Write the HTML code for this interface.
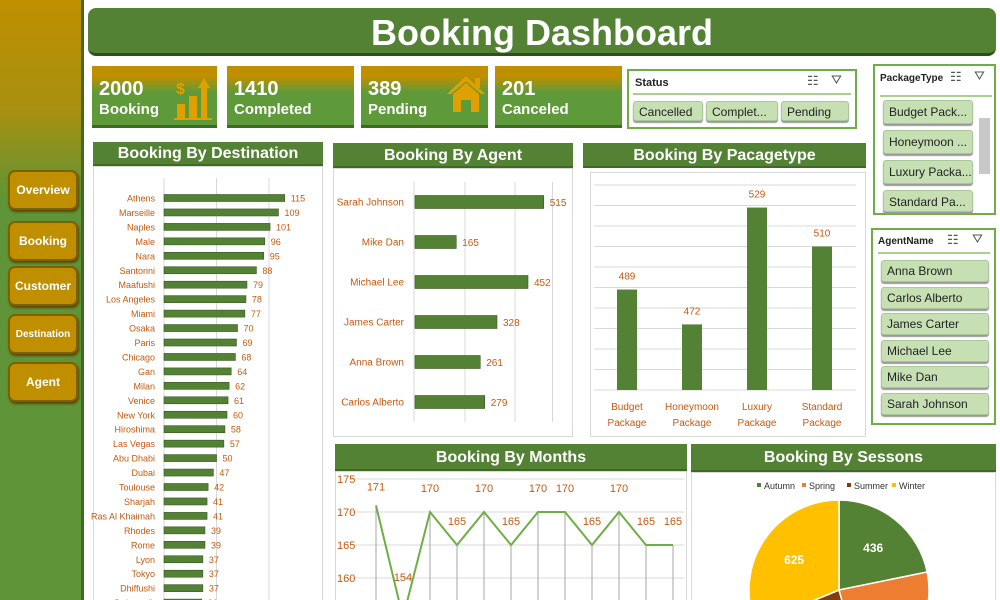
<!DOCTYPE html>
<html><head><meta charset="utf-8">
<style>
*{box-sizing:border-box;margin:0;padding:0}
html,body{width:1000px;height:600px;overflow:hidden}
body{background:#fff;font-family:"Liberation Sans",sans-serif;position:relative}
.abs{position:absolute}
.side{left:0;top:0;width:84px;height:600px;background:linear-gradient(#bf8f00 0px,#a89010 110px,#5f9438 200px,#5f9438 600px);border-right:3px solid #3d6b22}
.nav{left:8px;width:70px;height:40px;background:#bf8f00;border:2px solid #7f6000;border-radius:7px;color:#fff;font-weight:bold;font-size:12px;display:flex;align-items:center;justify-content:center;box-shadow:1px 2px 2px #5a4500}
.title{left:88px;top:8px;width:908px;height:48px;background:#548235;border-radius:8px;border-bottom:3px solid #2f4f1b;color:#fff;font-weight:bold;font-size:36px;text-align:center;line-height:50px}
.kpi{top:66px;height:62px;background:linear-gradient(#bf8f00 0%,#bf8f00 18%,#5e9a3a 45%,#5e9a3a 100%);border-bottom:3px solid #3d6b22;color:#fff;font-weight:bold;padding:12px 0 0 7px}
.kpi .n{font-size:20px;line-height:22px}.kpi .l{font-size:15px;line-height:19px}
.hdr{background:#548235;color:#fff;font-weight:bold;font-size:16px;text-align:center;border-bottom:2px solid #3d6b22}
.panel{border:1px solid #d9d9d9;border-bottom:none;background:#fff}
.slicer{border:2px solid #70ad47;background:#fff}
.item{position:absolute;background:#c6e0b4;border:1px solid #a9c79a;border-radius:3px;font-size:12px;color:#222;padding-left:5px;box-shadow:0 2px 1px #999;line-height:20px;white-space:nowrap;overflow:hidden}
.sl-t{position:absolute;font-weight:bold;font-size:11px;color:#222}
.ico{position:absolute;font-size:13px;color:#555}
</style></head><body>
<div class="abs side"></div>
<div class="abs nav" style="top:170px">Overview</div>
<div class="abs nav" style="top:221px">Booking</div>
<div class="abs nav" style="top:266px">Customer</div>
<div class="abs nav" style="top:314px;font-size:10px">Destination</div>
<div class="abs nav" style="top:362px">Agent</div>
<div class="abs title">Booking Dashboard</div>

<div class="abs kpi" style="left:92px;width:125px"><div class="n">2000</div><div class="l">Booking</div>
<svg class="abs" style="left:82px;top:10px" width="40" height="45"><text x="2" y="18" fill="#e0a000" font-size="16" font-weight="bold">$</text><rect x="3" y="28" width="8" height="14" fill="#e0a000"/><rect x="15" y="20" width="8" height="22" fill="#e0a000"/><rect x="27" y="12" width="6" height="30" fill="#e0a000"/><polygon points="24,12 30,2 36,12" fill="#e0a000"/><rect x="0" y="42" width="38" height="2" fill="#e0a000"/></svg></div>
<div class="abs kpi" style="left:227px;width:127px"><div class="n">1410</div><div class="l">Completed</div></div>
<div class="abs kpi" style="left:361px;width:127px"><div class="n">389</div><div class="l">Pending</div>
<svg class="abs" style="left:84px;top:6px" width="42" height="42"><polygon points="2,22 21,4 40,22 36,22 21,9 6,22" fill="#e0a000"/><rect x="30" y="6" width="5" height="10" fill="#e0a000"/><polygon points="8,22 21,11 34,22 34,40 26,40 26,28 16,28 16,40 8,40" fill="#e0a000"/></svg></div>
<div class="abs kpi" style="left:495px;width:127px"><div class="n">201</div><div class="l">Canceled</div></div>

<div class="abs slicer" style="left:627px;top:69px;width:230px;height:60px">
<div class="sl-t" style="left:6px;top:6px">Status</div><div class="ico" style="left:178px;top:2px">☷</div><div class="ico" style="left:202px;top:1px">⛛</div>
<div class="abs" style="left:4px;top:22px;width:218px;height:2px;background:#a9d08e"></div>
<div class="item" style="left:4px;top:30px;width:70px;height:20px">Cancelled</div>
<div class="item" style="left:77px;top:30px;width:72px;height:20px">Complet...</div>
<div class="item" style="left:152px;top:30px;width:68px;height:20px">Pending</div></div>

<div class="abs slicer" style="left:873px;top:64px;width:123px;height:151px">
<div class="sl-t" style="left:5px;top:7px;font-size:10px">PackageType</div><div class="ico" style="left:75px;top:3px">☷</div><div class="ico" style="left:99px;top:2px">⛛</div>
<div class="abs" style="left:5px;top:29px;width:112px;height:2px;background:#a9d08e"></div>
<div class="item" style="left:8px;top:34px;width:90px;height:24px;line-height:22px">Budget Pack...</div>
<div class="item" style="left:8px;top:64px;width:90px;height:24px;line-height:22px">Honeymoon ...</div>
<div class="item" style="left:8px;top:94px;width:90px;height:24px;line-height:22px">Luxury Packa...</div>
<div class="item" style="left:8px;top:124px;width:90px;height:22px;line-height:22px">Standard Pa...</div>
<div class="abs" style="left:104px;top:52px;width:11px;height:56px;background:#c8c8c8"></div></div>

<div class="abs slicer" style="left:871px;top:228px;width:125px;height:197px">
<div class="sl-t" style="left:5px;top:6px;font-size:10px">AgentName</div><div class="ico" style="left:74px;top:2px">☷</div><div class="ico" style="left:99px;top:1px">⛛</div>
<div class="abs" style="left:5px;top:22px;width:112px;height:2px;background:#a9d08e"></div>
<div id="agentItems"></div></div>

<div class="abs hdr" style="left:93px;top:142px;width:230px;height:24px;line-height:24px">Booking By Destination</div>
<div class="abs panel" style="left:93px;top:166px;width:230px;height:434px"></div>
<div class="abs hdr" style="left:333px;top:143px;width:240px;height:25px;line-height:25px">Booking By Agent</div>
<div class="abs panel" style="left:333px;top:168px;width:240px;height:269px;border-bottom:1px solid #d9d9d9"></div>
<div class="abs hdr" style="left:583px;top:143px;width:283px;height:25px;line-height:25px">Booking By Pacagetype</div>
<div class="abs panel" style="left:590px;top:172px;width:276px;height:265px;border-bottom:1px solid #d9d9d9"></div>
<div class="abs hdr" style="left:335px;top:444px;width:352px;height:27px;line-height:27px">Booking By Months</div>
<div class="abs panel" style="left:335px;top:471px;width:352px;height:129px"></div>
<div class="abs hdr" style="left:691px;top:444px;width:305px;height:28px;line-height:28px">Booking By Sessons</div>
<div class="abs panel" style="left:691px;top:472px;width:305px;height:128px"></div>

<svg id="chart" class="abs" style="left:0;top:0" width="1000" height="600"></svg>
<script>
const destNames=["Athens","Marseille","Naples","Male","Nara","Santorini","Maafushi","Los Angeles","Miami","Osaka","Paris","Chicago","Gan","Milan","Venice","New York","Hiroshima","Las Vegas","Abu Dhabi","Dubai","Toulouse","Sharjah","Ras Al Khaimah","Rhodes","Rome","Lyon","Tokyo","Dhiffushi","Dubrovnik"];
const destValues=[115,109,101,96,95,88,79,78,77,70,69,68,64,62,61,60,58,57,50,47,42,41,41,39,39,37,37,37,36];
const agentNames=["Sarah Johnson","Mike Dan","Michael Lee","James Carter","Anna Brown","Carlos Alberto"];
const agentValues=[515,165,452,328,261,279];
const pkgNames=[["Budget","Package"],["Honeymoon","Package"],["Luxury","Package"],["Standard","Package"]];
const pkgValues=[489,472,529,510];
const monthValues=[171,154,170,165,170,165,170,170,165,170,165,165];
const yTicks=[175,170,165,160];
const seasonNames=["Autumn","Spring","Summer","Winter"];
const seasonValues=[436,480,459,625];
const slicerAgents=["Anna Brown","Carlos Alberto","James Carter","Michael Lee","Mike Dan","Sarah Johnson"];

const NS="http://www.w3.org/2000/svg",svg=document.getElementById('chart');
const G="#548235",R="#c55a11";
function el(t,a,txt){const e=document.createElementNS(NS,t);for(const k in a)e.setAttribute(k,a[k]);if(txt!==undefined)e.textContent=txt;svg.appendChild(e);return e;}

// destination
const dx=v=>164+v*1.05, dy=i=>198+i*14.45;
[0,50,100].forEach(v=>{const l=el('line',{x1:dx(v),x2:dx(v),y1:178,y2:600,stroke:'#d9d9d9'});});
destNames.forEach((n,i)=>{
 const t=el('text',{x:155,y:dy(i)+3.5,'text-anchor':'end','font-size':9,fill:R},n);
 const b=el('rect',{x:dx(0),y:dy(i)-3.5,width:dx(destValues[i])-dx(0),height:7,fill:G,stroke:'#375623','stroke-width':0.6});
 const v=el('text',{x:dx(destValues[i])+6,y:dy(i)+3.5,'font-size':9,fill:R},destValues[i]);
});

// agent
const ax=v=>415+v*0.25, ay=i=>202+i*40;
[200,400,550].forEach(v=>{const l=el('line',{x1:ax(v),x2:ax(v),y1:182,y2:422,stroke:'#d9d9d9'});});
el('line',{x1:414,x2:414,y1:182,y2:422,stroke:'#d9d9d9'});
agentNames.forEach((n,i)=>{
 const t=el('text',{x:404,y:ay(i)+3.5,'text-anchor':'end','font-size':10,fill:R},n);
 const b=el('rect',{x:ax(0),y:ay(i)-6.5,width:ax(agentValues[i])-ax(0),height:13,fill:G,stroke:'#375623','stroke-width':0.6});
 const v=el('text',{x:ax(agentValues[i])+6,y:ay(i)+4,'font-size':10,fill:R},agentValues[i]);
});

// package
const py=v=>390-(v-440)*2.05, pxc=i=>627+i*65;
for(let v=440;v<=540;v+=10){const l=el('line',{x1:594,x2:856,y1:py(v),y2:py(v),stroke:'#d9d9d9'});}
pkgValues.forEach((v,i)=>{
 const b=el('rect',{x:pxc(i)-10,y:py(v),width:20,height:py(440)-py(v),fill:G});
 const t=el('text',{x:pxc(i),y:py(v)-10,'text-anchor':'middle','font-size':10,fill:R},v);
 pkgNames[i].forEach((s,k)=>{const c=el('text',{x:pxc(i),y:410+k*16,'text-anchor':'middle','font-size':10,fill:R},s);});
});

// months
const my=v=>512-(v-170)*6.6, mx=i=>376+i*27.0;
yTicks.forEach(v=>{const l=el('line',{x1:350,x2:684,y1:my(v),y2:my(v),stroke:'#d9d9d9'});
 const t=el('text',{x:337,y:my(v)+4,'font-size':11,fill:R},v);});
let pts=monthValues.map((v,i)=>mx(i)+','+my(v)).join(' ');
monthValues.forEach((v,i)=>{const l=el('line',{x1:mx(i),x2:mx(i),y1:Math.min(my(v),600),y2:600,stroke:'#a6a6a6'});});
const pl=el('polyline',{points:pts,fill:'none',stroke:'#70ad47','stroke-width':2});
monthValues.forEach((v,i)=>{const ly=Math.min(my(v)-(i==0?15:20),581);const t=el('text',{x:mx(i),y:ly,'text-anchor':'middle','font-size':11,fill:R},v);});

// seasons
const cols=["#548235","#ed7d31","#843c0c","#ffc000"];
seasonNames.forEach((n,i)=>{const x=757+i*45;
 const r=el('rect',{x:x,y:483,width:4,height:4,fill:cols[i]});
 const t=el('text',{x:x+7,y:489,'font-size':9,fill:'#333'},n);});
const total=seasonValues.reduce((a,b)=>a+b,0),cx=839,cy=590,rr=90;let a0=0;
seasonValues.forEach((v,i)=>{const a1=a0+v/total*2*Math.PI;
 const x0=cx+rr*Math.sin(a0),y0=cy-rr*Math.cos(a0),x1=cx+rr*Math.sin(a1),y1=cy-rr*Math.cos(a1);
 const p=el('path',{d:`M${cx},${cy}L${x0},${y0}A${rr},${rr} 0 ${a1-a0>Math.PI?1:0} 1 ${x1},${y1}Z`,fill:cols[i],stroke:'#fff','stroke-width':1.5});
 const am=(a0+a1)/2;const t=el('text',{x:cx+rr*0.6*Math.sin(am),y:cy-rr*0.6*Math.cos(am)+4,'text-anchor':'middle','font-size':12,'font-weight':'bold',fill:'#fff'},v);
 a0=a1;});

// agent slicer items
const box=document.getElementById('agentItems');
slicerAgents.forEach((n,i)=>{const d=document.createElement('div');d.className='item';
 d.style.cssText=`left:8px;top:${30+i*26.6}px;width:108px;height:22px`;d.textContent=n;
 
 
 box.appendChild(d);});
</script>
</body></html>
